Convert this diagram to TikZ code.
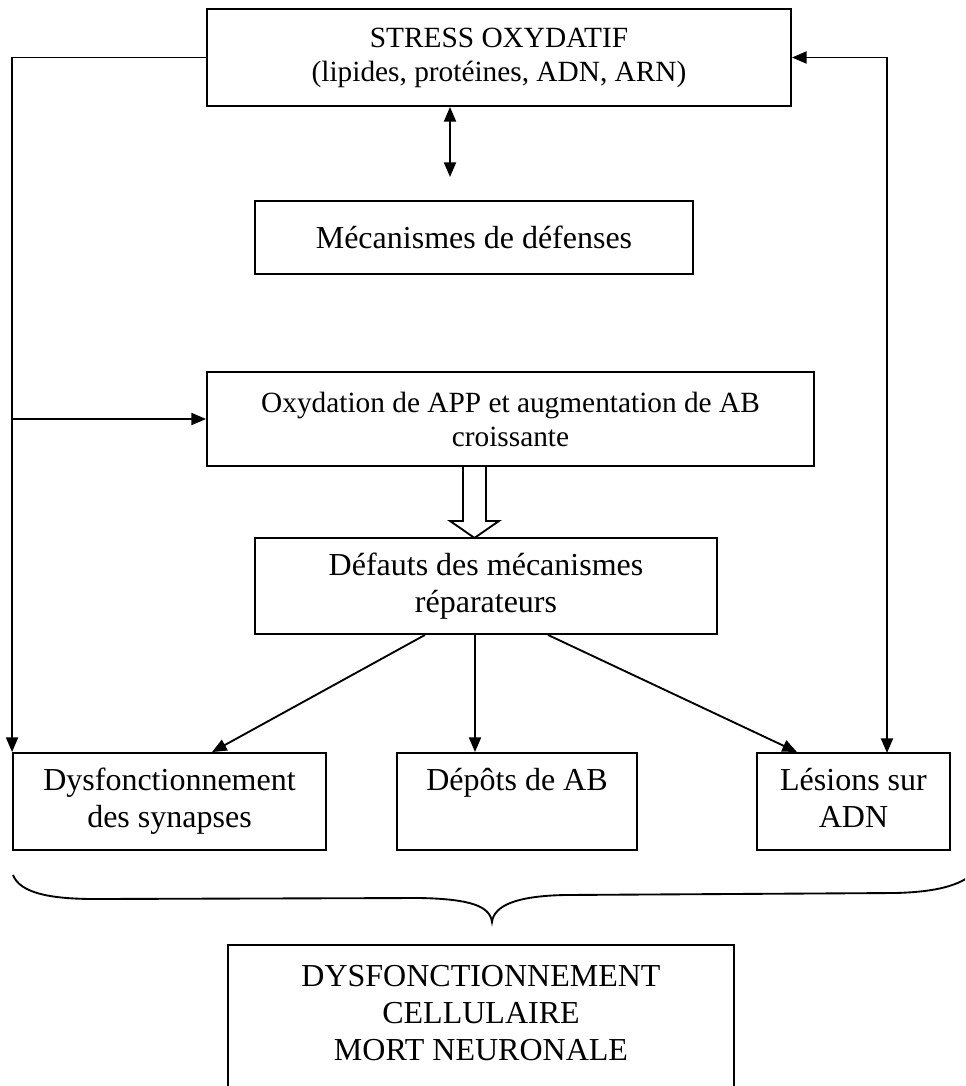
\documentclass[tikz,border=0pt]{standalone}
\usepackage{fontspec}
\setmainfont{Liberation Serif}
\usetikzlibrary{arrows.meta,positioning,calc}
\tikzset{every picture/.style={line width=1.4pt}}
\tikzset{
    boite/.style={draw, align=center, inner sep=0pt, font=\fontsize{24}{28}\selectfont},
    petite/.style={font=\fontsize{22}{25.5}\selectfont},
    taille/.style 2 args={minimum width=#1*0.75pt, minimum height=#2*0.75pt},
    fleche/.style={-{Triangle[length=11pt,width=9pt]}},
    double fleche/.style={{Triangle[length=11pt,width=9pt]}-{Triangle[length=11pt,width=9pt]}},
}

\begin{document}
\begin{tikzpicture}[x=0.75pt,y=-0.75pt]
    \clip (0,0) rectangle (965,1086);
    \fill[white] (0,0) rectangle (965,1086);
    % boites
    \node[boite, petite, taille={584}{97}] (stress) at (499,57.5)
        {STRESS OXYDATIF\\(lipides, protéines, ADN, ARN)};
    \node[boite, taille={438}{73}] (meca) at (474,237.5) {Mécanismes de défenses};
    \node[boite, petite, taille={607}{94}] (oxy) at (510.5,419)
        {Oxydation de APP et augmentation de AB\\croissante};
    \node[boite, taille={462}{96}] (def) at (486,586)
        {Défauts des mécanismes\\réparateurs};
    \node[boite, taille={313}{97}] (dysf) at (169.5,801.5)
        {\strut Dysfonctionnement\\\strut des synapses};
    \node[boite, taille={240}{97}] (dep) at (517,801.5)
        {\strut Dépôts de AB\\\strut};
    \node[boite, taille={193}{97}] (les) at (853.5,801.5)
        {\strut Lésions sur\\\strut ADN};
    \node[align=center, inner sep=0pt, font=\fontsize{24}{28}\selectfont,
        taille={504}{134}] (mort) at (481,1013)
        {DYSFONCTIONNEMENT\\CELLULAIRE\\MORT NEURONALE};
    \draw ([yshift=-12pt]mort.south west) -- (mort.north west) -- (mort.north east)
        -- ([yshift=-12pt]mort.south east);

    % fleches
    \coordinate (mdh) at (450,177);
    \coordinate (ld) at (887,753);
    \draw[double fleche] (stress.south -| mdh) -- (mdh);
    \draw[fleche] (stress.west) -| (dysf.north west);
    \draw[fleche] (dysf.north west |- oxy.west) -- (oxy.west);
    \draw[double fleche] (stress.east) -| (ld);
    \draw[fleche] ($(def.south)+(-61,0)$) -- ($(dysf.north)+(42.5,0)$);
    \draw[fleche] ($(def.south)+(-11,0)$) -- ($(dep.north)+(-42,0)$);
    \draw[fleche] ($(def.south)+(62,0)$) -- ($(les.north)+(-56.5,0)$);

    % grosse fleche creuse
    \draw ($(oxy.south)+(-47.5,0)$) -- ++(0,54) -- ++(-13,0) -- ++(24.5,17)
        -- ++(24.5,-17) -- ++(-13,0) -- ++(0,-54);

    % accolade
    \draw (13,875) .. controls (20,893) and (50,899) .. (95,899) -- (420,898)
        .. controls (470,899) and (490,906) .. (492,922)
        .. controls (494,906) and (515,896) .. (565,895) -- (895,893)
        .. controls (935,892) and (960,886) .. (975,872);
\end{tikzpicture}
\end{document}
